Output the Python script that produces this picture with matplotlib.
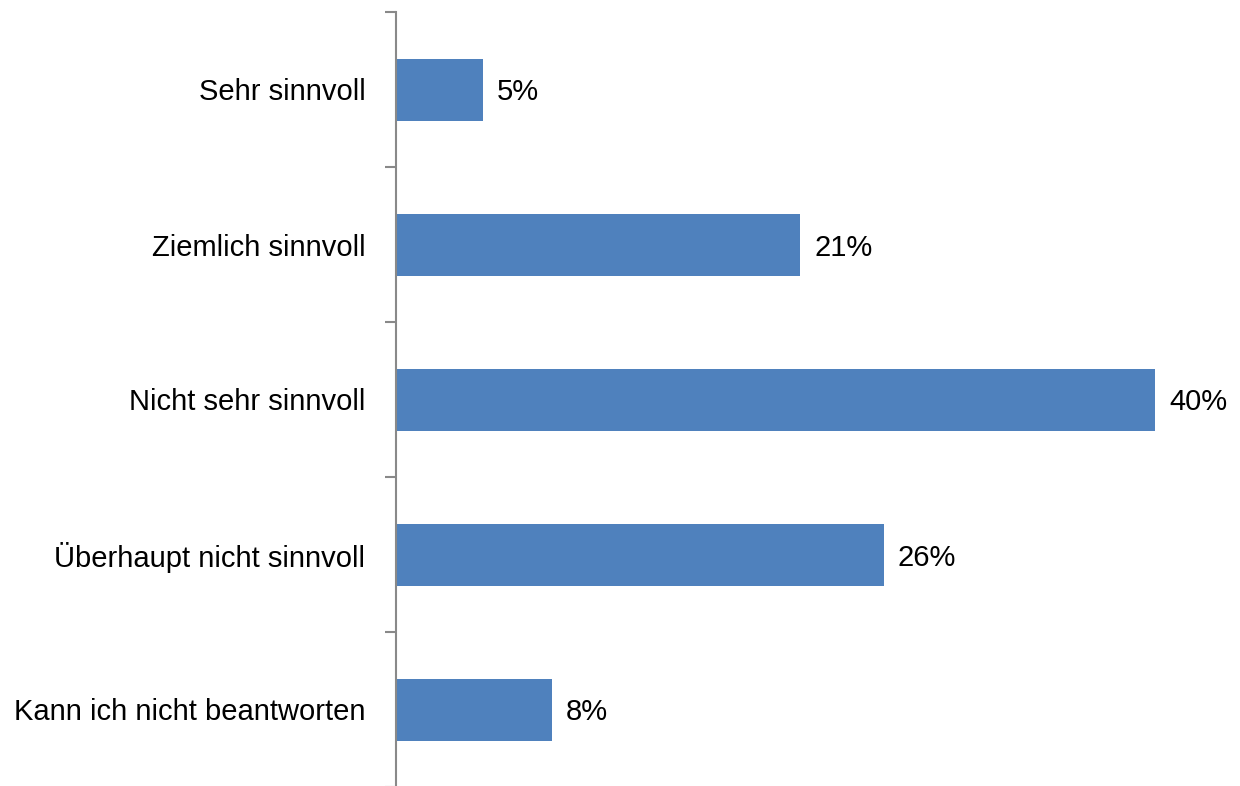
import matplotlib.pyplot as plt

# Antworten und Anteile (in %)
categories = ['Sehr sinnvoll', 'Ziemlich sinnvoll', 'Nicht sehr sinnvoll',
              'Überhaupt nicht sinnvoll', 'Kann ich nicht beantworten']
values = [4.6, 21.3, 40.0, 25.7, 8.2]
labels = ['5%', '21%', '40%', '26%', '8%']

plt.rcParams['font.family'] = ['Liberation Sans', 'DejaVu Sans']

fig = plt.figure(figsize=(12.4, 7.86), dpi=100)
ax = fig.add_axes([396 / 1240, -1 / 786, 835 / 1240, 775 / 786])

pos = list(range(len(categories)))
ax.barh(pos, values, height=0.4, color='#4F81BD')

for p, v, lab in zip(pos, values, labels):
    ax.annotate(lab, (v, p), xytext=(10, 0), textcoords='offset points',
                va='center_baseline', ha='left', fontsize=21)

ax.set_xlim(0, 44)
ax.set_ylim(len(categories) - 0.5, -0.5)

ax.set_yticks(pos)
ax.set_yticklabels(categories, fontsize=21, va='center_baseline')
ax.tick_params(axis='y', which='major', length=0, pad=22)
ax.set_yticks([i - 0.5 for i in range(len(categories) + 1)], minor=True)
ax.tick_params(axis='y', which='minor', length=8, width=1.5, color='#898989')

ax.set_xticks([])
for s in ['top', 'right', 'bottom']:
    ax.spines[s].set_visible(False)
ax.spines['left'].set_color('#898989')
ax.spines['left'].set_linewidth(1.5)

fig.savefig('out.png', dpi=100)
